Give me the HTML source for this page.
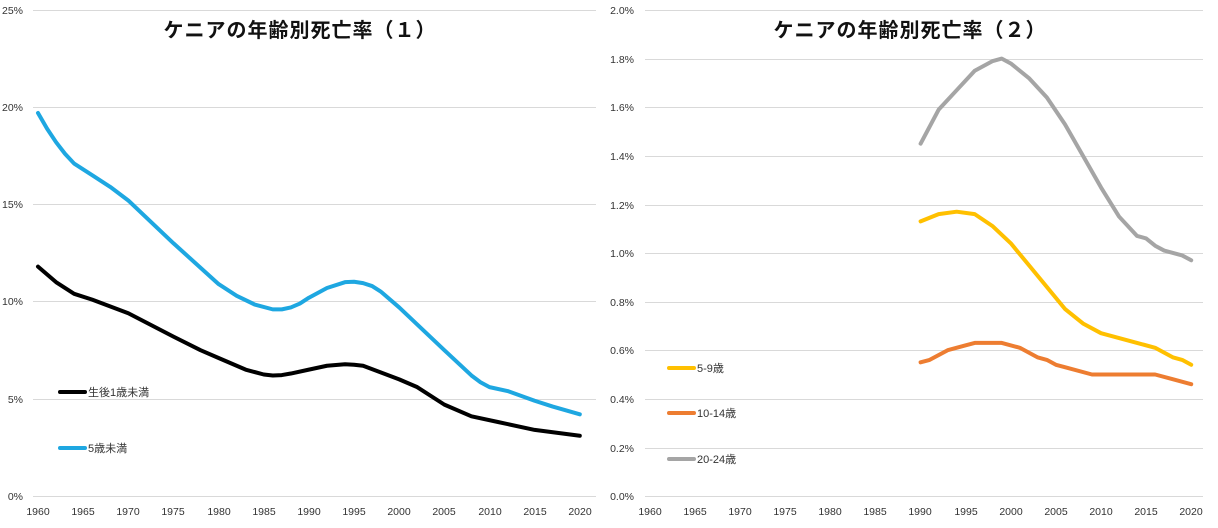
<!DOCTYPE html>
<html><head><meta charset="utf-8"><style>
body{margin:0;background:#fff}
svg{display:block}
text{font-family:"Liberation Sans","Noto Sans CJK JP",sans-serif;fill:#333}
.t{font-size:20px;font-weight:bold;fill:#111;letter-spacing:1px}
.a{font-size:10.5px;fill:#555}
.l{font-size:11px;fill:#444}
</style></head><body>
<svg width="1218" height="528" viewBox="0 0 1218 528">
<g stroke="#d9d9d9" stroke-width="1">
<line x1="33" x2="596" y1="10.5" y2="10.5"/><line x1="33" x2="596" y1="107.5" y2="107.5"/><line x1="33" x2="596" y1="204.5" y2="204.5"/><line x1="33" x2="596" y1="301.5" y2="301.5"/><line x1="33" x2="596" y1="399.5" y2="399.5"/><line x1="33" x2="596" y1="496.5" y2="496.5"/>
<line x1="645" x2="1203" y1="10.5" y2="10.5"/><line x1="645" x2="1203" y1="59.5" y2="59.5"/><line x1="645" x2="1203" y1="107.5" y2="107.5"/><line x1="645" x2="1203" y1="156.5" y2="156.5"/><line x1="645" x2="1203" y1="205.5" y2="205.5"/><line x1="645" x2="1203" y1="253.5" y2="253.5"/><line x1="645" x2="1203" y1="302.5" y2="302.5"/><line x1="645" x2="1203" y1="350.5" y2="350.5"/><line x1="645" x2="1203" y1="399.5" y2="399.5"/><line x1="645" x2="1203" y1="448.5" y2="448.5"/><line x1="645" x2="1203" y1="496.5" y2="496.5"/>
</g>
<g class="a" text-anchor="end">
<text x="23" y="14">25%</text><text x="23" y="111">20%</text><text x="23" y="208">15%</text><text x="23" y="305">10%</text><text x="23" y="403">5%</text><text x="23" y="500">0%</text>
<text x="634" y="14">2.0%</text><text x="634" y="63">1.8%</text><text x="634" y="111">1.6%</text><text x="634" y="160">1.4%</text><text x="634" y="209">1.2%</text><text x="634" y="257">1.0%</text><text x="634" y="306">0.8%</text><text x="634" y="354">0.6%</text><text x="634" y="403">0.4%</text><text x="634" y="452">0.2%</text><text x="634" y="500">0.0%</text>
</g>
<g class="a" text-anchor="middle">
<text x="38" y="515">1960</text><text x="83" y="515">1965</text><text x="128" y="515">1970</text><text x="173" y="515">1975</text><text x="219" y="515">1980</text><text x="264" y="515">1985</text><text x="309" y="515">1990</text><text x="354" y="515">1995</text><text x="399" y="515">2000</text><text x="444" y="515">2005</text><text x="490" y="515">2010</text><text x="535" y="515">2015</text><text x="580" y="515">2020</text>
<text x="650" y="515">1960</text><text x="695" y="515">1965</text><text x="740" y="515">1970</text><text x="785" y="515">1975</text><text x="830" y="515">1980</text><text x="875" y="515">1985</text><text x="920" y="515">1990</text><text x="966" y="515">1995</text><text x="1011" y="515">2000</text><text x="1056" y="515">2005</text><text x="1101" y="515">2010</text><text x="1146" y="515">2015</text><text x="1191" y="515">2020</text>
</g>
<text class="t" x="300" y="37" text-anchor="middle">ケニアの年齢別死亡率（１）</text>
<text class="t" x="910" y="37" text-anchor="middle">ケニアの年齢別死亡率（２）</text>
<g fill="none" stroke-width="4" stroke-linejoin="round" stroke-linecap="round">
<g transform="translate(-17660.8,496) scale(9.03,-19.44)">
<polyline vector-effect="non-scaling-stroke" stroke="#1ea7e1" points="1960,19.7 1961,18.9 1962,18.2 1963,17.6 1964,17.1 1966,16.5 1968,15.9 1970,15.2 1975,13 1980,10.9 1982,10.3 1984,9.85 1986,9.6 1987,9.6 1988,9.7 1989,9.9 1990,10.2 1992,10.7 1994,11 1995,11.02 1996,10.95 1997,10.8 1998,10.5 2000,9.7 2005,7.5 2008,6.2 2009,5.85 2010,5.6 2012,5.4 2015,4.9 2017,4.6 2020,4.2"/>
<polyline vector-effect="non-scaling-stroke" stroke="#000" points="1960,11.8 1962,11 1964,10.4 1966,10.1 1970,9.4 1975,8.2 1978,7.5 1980,7.1 1983,6.5 1985,6.25 1986,6.2 1987,6.22 1988,6.3 1990,6.5 1992,6.7 1994,6.78 1995,6.75 1996,6.7 2000,6 2002,5.6 2005,4.7 2008,4.1 2011,3.8 2015,3.4 2020,3.1"/>
</g>
<g transform="translate(-17029.2,496) scale(9.02,-243)">
<polyline vector-effect="non-scaling-stroke" stroke="#a5a5a5" points="1990,1.45 1991,1.52 1992,1.59 1994,1.67 1996,1.75 1998,1.79 1999,1.8 2000,1.78 2002,1.72 2004,1.64 2006,1.53 2008,1.4 2010,1.27 2012,1.15 2014,1.07 2015,1.06 2016,1.03 2017,1.01 2019,0.99 2020,0.97"/>
<polyline vector-effect="non-scaling-stroke" stroke="#ffc000" points="1990,1.13 1992,1.16 1994,1.17 1996,1.16 1998,1.11 2000,1.04 2002,0.95 2004,0.86 2006,0.77 2008,0.71 2010,0.67 2012,0.65 2014,0.63 2016,0.61 2018,0.57 2019,0.56 2020,0.54"/>
<polyline vector-effect="non-scaling-stroke" stroke="#ed7d31" points="1990,0.55 1991,0.56 1993,0.6 1995,0.62 1996,0.63 1999,0.63 2001,0.61 2003,0.57 2004,0.56 2005,0.54 2006,0.53 2009,0.5 2016,0.5 2018,0.48 2020,0.46"/>
</g>
<line x1="60" x2="85" y1="392" y2="392" stroke="#000"/>
<line x1="60" x2="85" y1="448" y2="448" stroke="#1ea7e1"/>
<line x1="669" x2="694" y1="368" y2="368" stroke="#ffc000"/>
<line x1="669" x2="694" y1="413" y2="413" stroke="#ed7d31"/>
<line x1="669" x2="694" y1="459" y2="459" stroke="#a5a5a5"/>
</g>
<g class="l">
<text x="88" y="396">生後1歳未満</text>
<text x="88" y="452">5歳未満</text>
<text x="697" y="372">5-9歳</text>
<text x="697" y="417">10-14歳</text>
<text x="697" y="463">20-24歳</text>
</g>
</svg>
</body></html>
